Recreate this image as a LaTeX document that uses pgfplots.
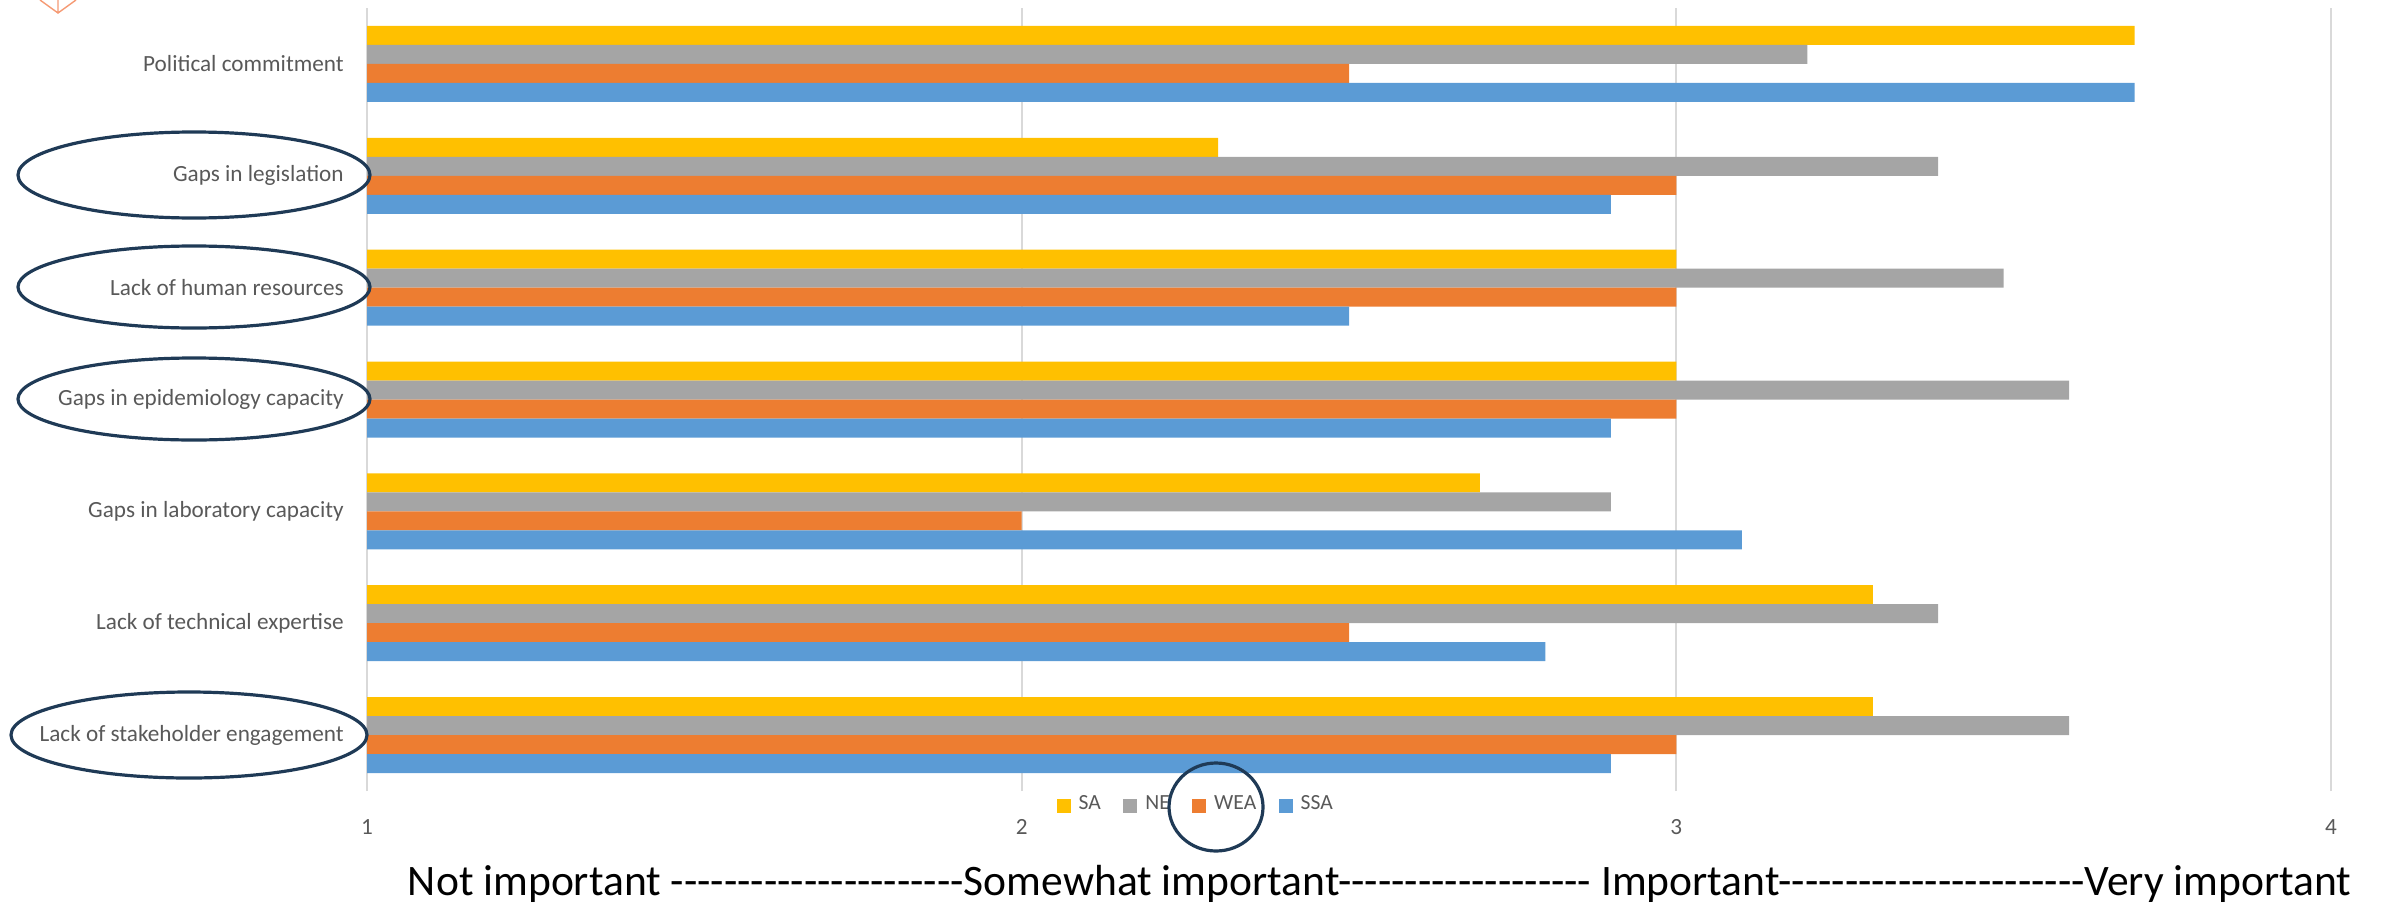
\documentclass[border=0pt]{standalone}
\usepackage{pgfplots}
\pgfplotsset{compat=1.18}
\usepackage{pgfplotstable}
\usepackage{fontspec}
\setmainfont{Carlito}
\newfontfamily\nolig{Carlito}[Ligatures=TeXOff]
\definecolor{cSA}{HTML}{FFC000}
\definecolor{cNE}{HTML}{A5A5A5}
\definecolor{cWEA}{HTML}{ED7D31}
\definecolor{cSSA}{HTML}{5B9BD5}
\definecolor{gridc}{HTML}{D9D9D9}
\definecolor{labc}{HTML}{595959}
\definecolor{ringc}{HTML}{1F3A56}
\definecolor{logoc}{HTML}{F59A74}

\pgfplotstableread{
y   SA   NE   WEA  SSA
6   3.7  3.2  2.5  3.7
5   2.3  3.4  3.0  2.9
4   3.0  3.5  3.0  2.5
3   3.0  3.6  3.0  2.9
2   2.7  2.9  2.0  3.1
1   3.3  3.4  2.5  2.8
0   3.3  3.6  3.0  2.9
}\datatable

\begin{document}
\begin{tikzpicture}[x=1pt,y=1pt]
\path[use as bounding box] (0,0) rectangle (596,225.5);
\begin{axis}[
  at={(91.75pt,27.75pt)}, anchor=south west,
  scale only axis, width=491pt, height=195.75pt,
  xbar, bar width=4.75pt,
  xmin=1, xmax=4, ymin=-0.5, ymax=6.5,
  xtick={1,2,3,4}, ytick={0,1,2,3,4,5,6},
  yticklabels={Lack of stakeholder engagement, Lack of technical expertise, Gaps in laboratory capacity, Gaps in epidemiology capacity, Lack of human resources, Gaps in legislation, Political commitment},
  /pgf/number format/assume math mode=true,
  axis line style={draw=none},
  major tick length=0pt,
  xmajorgrids, grid style={color=gridc, line width=0.5pt},
  ticklabel style={font=\fontsize{5.8}{7}\selectfont, text=labc},
  xticklabel style={yshift=-3.5pt},
  yticklabel style={xshift=-2.3pt},
  legend columns=4,
  legend style={draw=none, fill=none, at={(0.4235,-0.019)}, anchor=center,
    font=\fontsize{5.4}{6}\selectfont, text=labc, inner sep=0pt,
    /tikz/every even column/.append style={column sep=3.6pt}},
  legend image code/.code={\fill (0pt,-1.75pt) rectangle (3.5pt,1.75pt);},
  legend cell align=left,
]
\addplot[draw=none, fill=cSA, bar shift=7.125pt] table[x=SA, y=y] {\datatable};
\addplot[draw=none, fill=cNE, bar shift=2.375pt] table[x=NE, y=y] {\datatable};
\addplot[draw=none, fill=cWEA, bar shift=-2.375pt] table[x=WEA, y=y] {\datatable};
\addplot[draw=none, fill=cSSA, bar shift=-7.125pt] table[x=SSA, y=y] {\datatable};
\legend{SA, NE, WEA, SSA}
\end{axis}
\begin{scope}[yshift=225.5pt, x=0.25pt, y=-0.25pt]
  \draw[ringc, line width=0.8pt] (194,175) ellipse [x radius=176, y radius=43];
  \draw[ringc, line width=0.8pt] (194,287) ellipse [x radius=176, y radius=41];
  \draw[ringc, line width=0.8pt] (194,399) ellipse [x radius=176, y radius=41];
  \draw[ringc, line width=0.8pt] (189,735) ellipse [x radius=178, y radius=43];
  \draw[ringc, line width=0.8pt] (1216,807) ellipse [x radius=47, y radius=44];
  \draw[logoc, line width=0.35pt] (40,0) -- (58,13) -- (76,0) (58,0) -- (58,13);
  \node[anchor=base, inner sep=0pt] at (1380,895) {\resizebox{486pt}{!}{\nolig Not important ----------------------Somewhat important------------------- Important-----------------------Very important}};
\end{scope}
\end{tikzpicture}
\end{document}
